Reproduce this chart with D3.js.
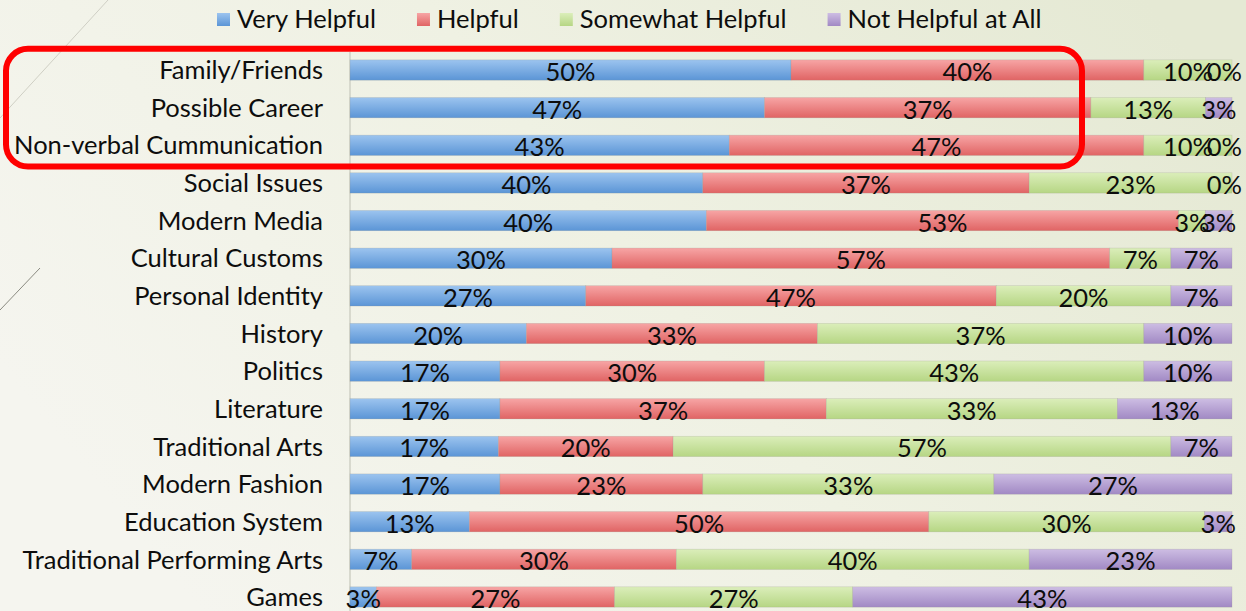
<!DOCTYPE html>
<html>
<head>
<meta charset="utf-8">
<script src="https://cdn.jsdelivr.net/npm/d3@7"></script>
<style>
	html, body {margin: 0; padding: 0; overflow: hidden;}
	text {font-family: Lato, "Open Sans", sans-serif; fill: #0d0d0d;}
</style>
</head>
<body>
<svg id="chart" width="1246" height="611"></svg>
<script>
/*** Data (percent labels, top row first) ***/
const topics = [
	"Family/Friends", "Possible Career", "Non-verbal Cummunication", "Social Issues",
	"Modern Media", "Cultural Customs", "Personal Identity", "History", "Politics",
	"Literature", "Traditional Arts", "Modern Fashion", "Education System",
	"Traditional Performing Arts", "Games"
]
const answers = ["Very Helpful", "Helpful", "Somewhat Helpful", "Not Helpful at All"]
const veryHelpful     = [50, 47, 43, 40, 40, 30, 27, 20, 17, 17, 17, 17, 13,  7,  3]
const helpful         = [40, 37, 47, 37, 53, 57, 47, 33, 30, 37, 20, 23, 50, 30, 27]
const somewhatHelpful = [10, 13, 10, 23,  3,  7, 20, 37, 43, 33, 57, 33, 30, 40, 27]
const notHelpful      = [ 0,  3,  0,  0,  3,  7,  7, 10, 10, 13,  7, 27,  3, 23, 43]
const highlighted     = ["Family/Friends", "Non-verbal Cummunication"]

/*** Styles ***/
const COLORS = [
	["#9cc4ef", "#5b95d6"],
	["#f7a5a5", "#e06464"],
	["#dbeeba", "#b6d684"],
	["#cdbde3", "#a189c4"]
]
const FONT = 25.5

const rows = topics.map((t, i) => ({
	topic: t,
	"Very Helpful": veryHelpful[i],
	"Helpful": helpful[i],
	"Somewhat Helpful": somewhatHelpful[i],
	"Not Helpful at All": notHelpful[i]
}))

const svg = d3.select("#chart")
const W = +svg.attr("width"), H = +svg.attr("height")
const defs = svg.append("defs")

// slide background
const bg = defs.append("linearGradient").attr("id", "bg").attr("x1", 0).attr("y1", 0.6).attr("x2", 1).attr("y2", 0.2)
bg.append("stop").attr("offset", 0).attr("stop-color", "#f5f5ef")
bg.append("stop").attr("offset", 0.5).attr("stop-color", "#eff1e3")
bg.append("stop").attr("offset", 1).attr("stop-color", "#e5e9d4")
svg.append("rect").attr("width", W).attr("height", H).attr("fill", "url(#bg)")

// decorative slide lines
svg.append("line").attr("x1", 0).attr("y1", 118).attr("x2", 108).attr("y2", 0)
	.attr("stroke", "#cfcfc4").attr("stroke-width", 1)
svg.append("line").attr("x1", 0).attr("y1", 310).attr("x2", 40).attr("y2", 268)
	.attr("stroke", "#8a8a80").attr("stroke-width", 1)

COLORS.forEach((c, i) => {
	const g = defs.append("linearGradient").attr("id", "g" + i).attr("x1", 0).attr("y1", 0).attr("x2", 0).attr("y2", 1)
	g.append("stop").attr("offset", 0).attr("stop-color", c[0])
	g.append("stop").attr("offset", 1).attr("stop-color", c[1])
})

/*** Scales ***/
const x = d3.scaleLinear().domain([0, 1]).range([350, 1232])
const y = d3.scaleBand().domain(topics).range([51.2, 615.8]).paddingInner(0.46).paddingOuter(0.23)

const stacked = d3.stack().keys(answers).offset(d3.stackOffsetExpand)(rows)

// category axis
const yAxis = svg.append("g")
	.attr("transform", "translate(" + x(0) + ",0)")
	.call(d3.axisLeft(y).tickSize(0).tickPadding(27))
yAxis.select(".domain").remove()
yAxis.selectAll("text").style("font-size", FONT + "px").attr("dy", "0.36em")
svg.append("line").attr("x1", x(0)).attr("x2", x(0)).attr("y1", 52).attr("y2", H)
	.attr("stroke", "#cfd0c4").attr("stroke-width", 1.5)

// bars
const series = svg.append("g").selectAll("g")
	.data(stacked)
	.enter()
	.append("g")
	.attr("fill", (d, i) => "url(#g" + i + ")")

series.selectAll("rect")
	.data(d => d)
	.enter()
	.append("rect")
	.attr("x", d => x(d[0]))
	.attr("y", d => y(d.data.topic))
	.attr("width", d => x(d[1]) - x(d[0]))
	.attr("height", y.bandwidth())
	.attr("stroke", "rgba(150,150,140,0.35)")
	.attr("stroke-width", 0.6)

// value labels
const labels = svg.append("g")
stacked.forEach((s) => {
	s.forEach((d) => {
		const t = labels.append("text")
			.attr("text-anchor", "middle")
			.attr("x", (x(d[0]) + x(d[1])) / 2)
			.attr("y", y(d.data.topic) + y.bandwidth() / 2 + 11)
			.style("font-size", FONT + "px")
			.text(d.data[s.key] + "%")
		var w = t.node().getComputedTextLength()
		var cx = +t.attr("x")
		if (cx + w / 2 > W - 4) t.attr("x", W - 4 - w / 2)
	})
})

// legend
const legend = svg.append("g")
var lx = 217
answers.forEach((a, i) => {
	legend.append("rect").attr("x", lx).attr("y", 13).attr("width", 13).attr("height", 13)
		.attr("fill", "url(#g" + i + ")")
	const t = legend.append("text").attr("x", lx + 20).attr("y", 28)
		.style("font-size", FONT + "px").text(a)
	lx += 20 + t.node().getComputedTextLength() + 41
})

// highlight frame
const hy0 = y(highlighted[0]) - 11, hy1 = y(highlighted[1]) + y.bandwidth() + 11
svg.append("rect")
	.attr("x", 6).attr("y", hy0).attr("width", 1076).attr("height", hy1 - hy0)
	.attr("rx", 22).attr("ry", 22)
	.attr("fill", "none").attr("stroke", "#ff0000").attr("stroke-width", 6)
</script>
</body>
</html>
